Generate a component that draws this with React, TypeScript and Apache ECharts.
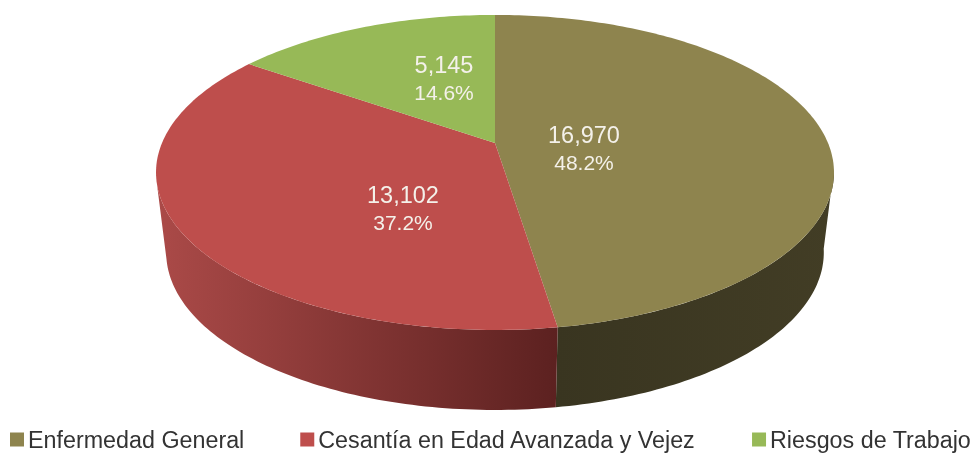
import React, { useEffect, useRef } from "react";
import * as echarts from "echarts";

const categories = ["Enfermedad General", "Cesantía en Edad Avanzada y Vejez", "Riesgos de Trabajo"];
const values = [16970, 13102, 5145];
const topColors = ["#8E844E", "#BE4E4C", "#97B957"];
const wallStops = [
  ["#423D25", "#393520"],
  ["#AB4A48", "#5C2120"],
  ["#97B957", "#97B957"],
];
const labelAnchors = [
  [584, 135],
  [403, 195],
  [444, 65],
];

// projection of the tilted disc
const APEX_X = 495;
const APEX_Y = 143;
const A = 333;
const B = 152;
const C = 0.187;
const DEPTH = 80;
const BOTTOM_SCALE = 0.97;
const THETA_RIGHT = 100.8;
const THETA_LEFT = 259.2;

const total = values.reduce((s, v) => s + v, 0);
const fmt = (v: number) => v.toLocaleString("en-US");

function warp(deg: number) {
  return deg - 2.3 * Math.min(1, deg / 173.5, (360 - deg) / 52.6);
}

function project(deg: number, bottom = false): number[] {
  const t = (warp(deg) * Math.PI) / 180;
  const d = 1 + C * Math.cos(t);
  const x = (A * Math.sin(t)) / d;
  const y = (-B * Math.cos(t)) / d;
  return bottom ? [APEX_X + x * BOTTOM_SCALE, APEX_Y + y + DEPTH] : [APEX_X + x, APEX_Y + y];
}

function arc(from: number, to: number, bottom = false) {
  const pts: number[][] = [];
  const n = Math.max(2, Math.ceil(Math.abs(to - from)));
  for (let i = 0; i <= n; i++) pts.push(project(from + ((to - from) * i) / n, bottom));
  return pts;
}

function sliceItem(index: number) {
  const before = values.slice(0, index).reduce((s, v) => s + v, 0);
  const start = (before / total) * 360;
  const end = ((before + values[index]) / total) * 360;
  const children: any[] = [];
  const a = Math.max(start, THETA_RIGHT);
  const b = Math.min(end, THETA_LEFT);
  if (b > a) {
    const top = arc(a, b);
    const low = arc(a, b, true).reverse();
    children.push({
      type: "polygon",
      shape: { points: [...top, ...low] },
      style: {
        fill: {
          type: "linear",
          x: 0,
          y: 0,
          x2: 1,
          y2: 0,
          colorStops: [
            { offset: 0, color: wallStops[index][index === 1 ? 0 : 1] },
            { offset: 1, color: wallStops[index][index === 1 ? 1 : 0] },
          ],
        },
      },
    });
  }
  children.push({
    type: "polygon",
    shape: { points: [[APEX_X, APEX_Y], ...arc(start, end)] },
    style: { fill: topColors[index] },
  });
  const [lx, ly] = labelAnchors[index];
  children.push({
    type: "text",
    style: {
      x: lx,
      y: ly,
      text: fmt(values[index]),
      fill: "#F4F1EA",
      fontSize: 23.5,
      fontFamily: "Liberation Sans",
      align: "center",
      verticalAlign: "middle",
    },
  });
  children.push({
    type: "text",
    style: {
      x: lx,
      y: ly + 27,
      text: ((values[index] / total) * 100).toFixed(1) + "%",
      fill: "#F4F1EA",
      fontSize: 21,
      fontFamily: "Liberation Sans",
      align: "center",
      verticalAlign: "middle",
    },
  });
  return { type: "group", children };
}

export default function App() {
  const ref = useRef<HTMLDivElement>(null);
  useEffect(() => {
    const chart = echarts.init(ref.current!, null, { renderer: "svg" });
    chart.setOption({
      animation: false,
      backgroundColor: "#FFFFFF",
      legend: {
        show: true,
        left: 10,
        top: 428,
        width: 962,
        icon: "rect",
        itemWidth: 14,
        itemHeight: 14,
        itemGap: 56,
        selectedMode: false,
        padding: 0,
        textStyle: { fontSize: 23.3, color: "#333333", fontFamily: "Liberation Sans", padding: [0, 0, 0, -1] },
        data: categories,
      },
      series: categories.map((name, i) => ({
        type: "custom",
        name,
        coordinateSystem: "none",
        itemStyle: { color: topColors[i] },
        data: [values[i]],
        renderItem: () => sliceItem(i),
      })),
    });
    return () => chart.dispose();
  }, []);
  return (
    <div
      ref={ref}
      style={{ position: "fixed", left: 0, top: 0, width: 974, height: 453, filter: "blur(0.6px)" }}
    />
  );
}
